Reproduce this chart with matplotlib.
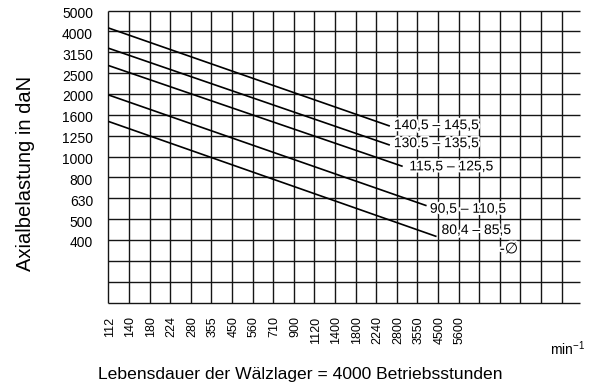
import numpy as np
import matplotlib
matplotlib.use("Agg")
import matplotlib.pyplot as plt
from matplotlib import patheffects as pe
from matplotlib.transforms import ScaledTranslation

plt.rcParams['font.family'] = ['Liberation Sans', 'DejaVu Sans']
plt.rcParams['mathtext.default'] = 'regular'

# Speed scale (min^-1) and axial load scale (daN), Renard steps
speed_ticks = [112, 140, 180, 224, 280, 355, 450, 560, 710, 900, 1120,
               1400, 1800, 2240, 2800, 3550, 4500, 5600]
load_ticks = [5000, 4000, 3150, 2500, 2000, 1600, 1250, 1000, 800, 630, 500, 400]

# Shaft diameter ranges and the end points of each load line
series_labels = ["140,5 – 145,5", "130.5 – 135,5", "115,5 – 125,5",
                 "90,5 – 110,5", "80,4 – 85,5"]
speed_start = [112, 112, 112, 112, 112]
speed_end = [2600, 2600, 3000, 3950, 4430]
load_start = [4150, 3300, 2720, 1980, 1480]
load_end = [1400, 1130, 900, 580, 415]

# label offsets from the line end, in points
label_offsets = [(2.9, 0.7), (2.9, 1.4), (4.8, 0.0), (2.4, -2.2), (3.6, 4.7)]

N_COLS = 22
N_ROWS = 14
COL_PX = 20.6
ROW_PX = 20.86


def x_pos(rpm):
    return np.interp(np.log(rpm), np.log(speed_ticks), np.arange(len(speed_ticks)))


def y_pos(load):
    # rows are counted downward from the top line (5000 daN)
    return np.interp(np.log(load), np.log(load_ticks[::-1]),
                     np.arange(len(load_ticks))[::-1])


fig = plt.figure(figsize=(5.98, 3.9), dpi=100)
W, H = 598, 390
left, top = 108.3, 10.5
x_max = 471.7 / COL_PX
ax = fig.add_axes([left / W, 1 - (top + N_ROWS * ROW_PX) / H,
                   471.7 / W, N_ROWS * ROW_PX / H])
ax.set_xlim(0, x_max)
ax.set_ylim(N_ROWS, 0)
for s in ax.spines.values():
    s.set_visible(False)

grid_kw = dict(color='#151515', lw=1.0, clip_on=False, zorder=1)
ax.vlines(np.arange(N_COLS + 1), 0, N_ROWS, **grid_kw)
ax.hlines(np.arange(N_ROWS + 1), 0, x_max, **grid_kw)

ax.set_xticks(np.arange(len(speed_ticks)))
ax.set_xticklabels([str(v) for v in speed_ticks], rotation=90, fontsize=9,
                   va='top', ha='center')
ax.set_yticks(np.arange(len(load_ticks)))
ax.set_yticklabels([str(v) for v in load_ticks], fontsize=10)
ax.tick_params(axis='x', length=0, pad=10)
ax.tick_params(axis='y', length=0, pad=11)
for lbl in ax.get_yticklabels():
    lbl.set_transform(lbl.get_transform() + ScaledTranslation(0, -2 / 100, fig.dpi_scale_trans))
for lbl in ax.get_xticklabels():
    lbl.set_transform(lbl.get_transform() + ScaledTranslation(1.5 / 100, 0, fig.dpi_scale_trans))

halo = [pe.withStroke(linewidth=3, foreground='white')]
for lab, s0, s1, l0, l1, off in zip(series_labels, speed_start, speed_end,
                                    load_start, load_end, label_offsets):
    xs = [x_pos(s0), x_pos(s1)]
    ys = [y_pos(l0), y_pos(l1)]
    ax.plot(xs, ys, color='black', lw=1.2, solid_capstyle='butt', zorder=3)
    ax.annotate(lab, xy=(xs[1], ys[1]), xytext=off, textcoords='offset points',
                ha='left', va='center', fontsize=10, color='black',
                path_effects=halo, zorder=4)

ax.text(19.0, 11.45, "-∅", ha='left', va='center', fontsize=11,
        path_effects=halo, zorder=4)

fig.text(550 / W, 1 - 349 / H, 'min$^{-1}$', ha='left', va='center', fontsize=10)
fig.text(300 / W, 1 - 374 / H, 'Lebensdauer der Wälzlager = 4000 Betriebsstunden',
         ha='center', va='center', fontsize=12.6)
fig.text(26 / W, 1 - 173 / H, 'Axialbelastung in daN', rotation=90,
         ha='center', va='center', fontsize=14.5)

fig.savefig('out.png', dpi=100, facecolor='white')
